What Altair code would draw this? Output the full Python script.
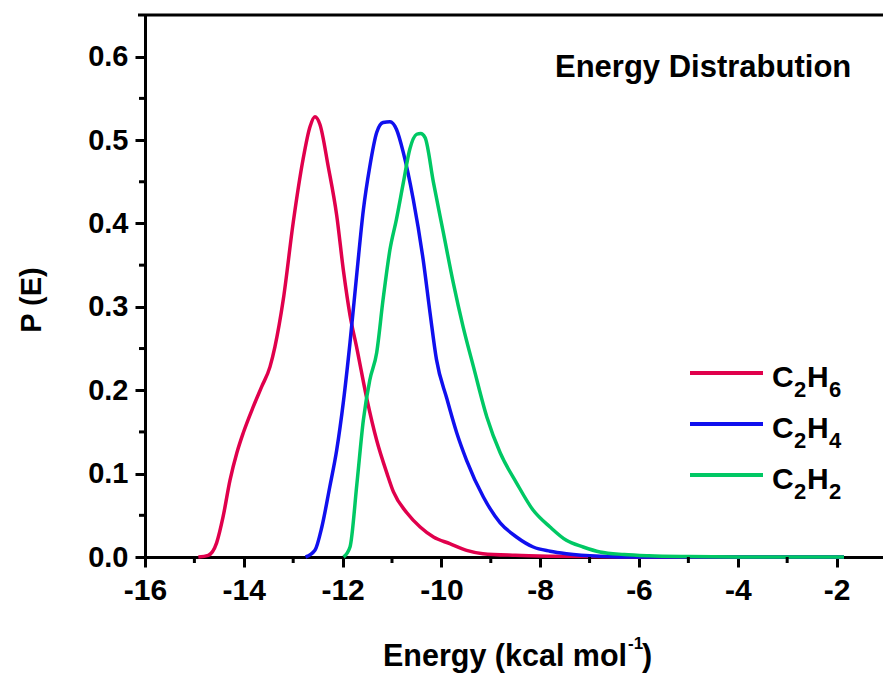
import altair as alt
import pandas as pd

# Energy distributions (kcal/mol vs probability density)
c2h6_energy = [-14.92, -14.72, -14.55, -14.42, -14.28, -14.14, -14.01, -13.81, -13.64, -13.47,
               -13.37, -13.2, -13.0, -12.8, -12.66, -12.56, -12.46, -12.29, -12.12, -11.98,
               -11.85, -11.71, -11.51, -11.31, -11.1, -10.97, -10.7, -10.43, -10.16, -9.83,
               -9.49, -9.16, -8.5, -7.8, -7.0, -6.0, -4.0, -1.85]
c2h6_prob = [0.0, 0.002, 0.017, 0.048, 0.092, 0.125, 0.149, 0.18, 0.204, 0.228,
             0.252, 0.309, 0.401, 0.477, 0.516, 0.528, 0.519, 0.468, 0.41, 0.342,
             0.29, 0.25, 0.19, 0.14, 0.1, 0.078, 0.053, 0.036, 0.024, 0.016,
             0.008, 0.004, 0.002, 0.001, 0.0005, 0.0, 0.0, 0.0]

c2h4_energy = [-12.75, -12.56, -12.42, -12.26, -12.12, -11.98, -11.85, -11.71, -11.58, -11.45,
               -11.31, -11.18, -11.04, -10.91, -10.77, -10.57, -10.37, -10.23, -10.1, -9.89,
               -9.69, -9.49, -9.15, -8.81, -8.48, -8.14, -7.8, -7.47, -6.8, -6.0, -4.0, -1.85]
c2h4_prob = [0.0, 0.008, 0.036, 0.084, 0.128, 0.188, 0.257, 0.341, 0.416, 0.468,
             0.509, 0.521, 0.522, 0.513, 0.485, 0.429, 0.357, 0.293, 0.237, 0.19,
             0.149, 0.116, 0.072, 0.041, 0.024, 0.012, 0.007, 0.004, 0.001, 0.0, 0.0, 0.0]

c2h2_energy = [-11.98, -11.85, -11.71, -11.58, -11.45, -11.31, -11.18, -11.04, -10.91, -10.77,
               -10.64, -10.5, -10.42, -10.33, -10.16, -9.96, -9.76, -9.56, -9.35, -9.08,
               -8.81, -8.48, -8.14, -7.8, -7.47, -7.13, -6.79, -6.3, -5.8, -5.0, -4.0, -1.85]
c2h2_prob = [0.0, 0.012, 0.088, 0.164, 0.212, 0.245, 0.309, 0.369, 0.405, 0.449,
             0.489, 0.507, 0.508, 0.503, 0.449, 0.389, 0.329, 0.276, 0.228, 0.168,
             0.125, 0.089, 0.056, 0.036, 0.02, 0.012, 0.006, 0.003, 0.0015, 0.0005, 0.0, 0.0]

species = ["C2H6", "C2H4", "C2H2"]
colors = ["#E0004C", "#1010EE", "#00C864"]
subscripts = [("2", "6"), ("2", "4"), ("2", "2")]

x_major = [-16, -14, -12, -10, -8, -6, -4, -2]
x_minor = [-15, -13, -11, -9, -7, -5, -3]
y_major = [0.0, 0.1, 0.2, 0.3, 0.4, 0.5, 0.6]
y_minor = [0.05, 0.15, 0.25, 0.35, 0.45, 0.55]

FONT = "Liberation Sans"
W, H = 738, 542

x_scale = alt.Scale(domain=[-16, -1.06], nice=False, zero=False)
y_scale = alt.Scale(domain=[0, 0.65], nice=False, zero=False)

# tick labels use a plain hyphen for the minus sign
x_axis = alt.Axis(values=x_major, title=None, grid=False, tickSize=10, tickWidth=3,
                  tickColor="black", domainWidth=3, domainColor="black",
                  labelFont=FONT, labelFontSize=30, labelFontWeight="bold",
                  labelColor="black", labelPadding=8, labelFlush=False,
                  labelExpr="(datum.value < 0 ? '-' : '') + abs(datum.value)")
y_axis = alt.Axis(values=y_major, title=None, grid=False, tickSize=10, tickWidth=3,
                  tickColor="black", domainWidth=3, domainColor="black",
                  labelFont=FONT, labelFontSize=29, labelFontWeight="bold",
                  labelColor="black", labelPadding=7, labelFlush=False, format=".1f")

series = [(c2h6_energy, c2h6_prob), (c2h4_energy, c2h4_prob), (c2h2_energy, c2h2_prob)]

layers = []
for name, col, (ex, py) in zip(species, colors, series):
    df = pd.DataFrame({"energy": ex, "p": py})
    layers.append(
        alt.Chart(df).mark_line(strokeWidth=3.5, interpolate="monotone", color=col).encode(
            x=alt.X("energy:Q", scale=x_scale, axis=x_axis),
            y=alt.Y("p:Q", scale=y_scale, axis=y_axis),
        )
    )

# minor ticks
minor_x = alt.Chart(pd.DataFrame({"energy": x_minor})).mark_rule(strokeWidth=3, color="black").encode(
    x=alt.X("energy:Q", scale=x_scale, axis=x_axis), y=alt.value(H), y2=alt.value(H + 6))
minor_y = alt.Chart(pd.DataFrame({"p": y_minor})).mark_rule(strokeWidth=3, color="black").encode(
    y=alt.Y("p:Q", scale=y_scale, axis=y_axis), x=alt.value(0), x2=alt.value(-6))

# top frame line
top_line = alt.Chart(pd.DataFrame({"a": [0]})).mark_rule(strokeWidth=3, color="black").encode(
    x=alt.value(-7), x2=alt.value(W), y=alt.value(0))
layers += [minor_x, minor_y, top_line]


def label(text, x, y, size, align="left", baseline="alphabetic", angle=0):
    return alt.Chart(pd.DataFrame({"t": [text]})).mark_text(
        font=FONT, fontSize=size, fontWeight="bold", color="black",
        align=align, baseline=baseline, angle=angle).encode(
        text="t:N", x=alt.value(x), y=alt.value(y))


# in-plot title
layers.append(label("Energy Distrabution", 410, 62, 31))

# legend with subscripted formulas
for i, (name, col, (s1, s2)) in enumerate(zip(species, colors, subscripts)):
    ly = 358 + i * 51
    layers.append(alt.Chart(pd.DataFrame({"s": [name]})).mark_rule(strokeWidth=4, color=col).encode(
        x=alt.value(545), x2=alt.value(618), y=alt.value(ly)))
    base = ly + 14
    layers.append(label("C", 627, base, 30))
    layers.append(label(s1, 649, base + 10, 22))
    layers.append(label("H", 662, base, 30))
    layers.append(label(s2, 684, base + 10, 22))

# axis titles
layers.append(label("P (E)", -113, 285, 29, align="center", baseline="middle", angle=270))
layers.append(label("Energy (kcal mol", 238, 651, 30.5))
layers.append(label("-1", 483, 634, 17))
layers.append(label(")", 497, 651, 30.5))

chart = alt.layer(*layers).properties(
    width=W, height=H,
    autosize="none",
    padding={"left": 145, "top": 15, "right": 0, "bottom": 116},
    background="white",
).configure_view(stroke=None)

chart.save("out.html", embed_options={"renderer": "svg", "actions": False})
